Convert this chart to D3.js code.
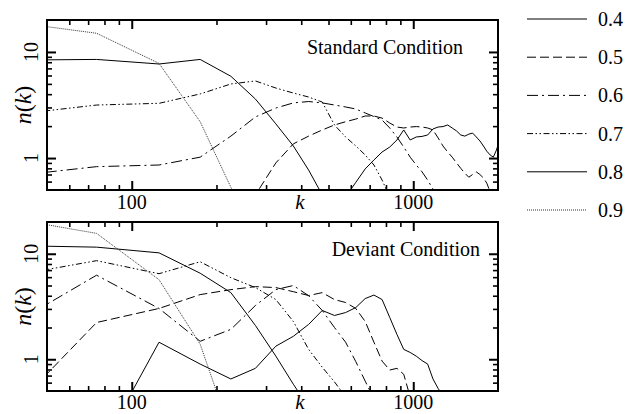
<!DOCTYPE html>
<html>
<head>
<meta charset="utf-8">
<script src="https://cdn.jsdelivr.net/npm/d3@7"></script>
<style>
  body { margin: 0; background: #fff; }
  svg text { font-family: "Liberation Serif", "Times New Roman", serif; fill: #000; }
</style>
</head>
<body>
<svg id="chart" width="637" height="414"></svg>
<script>
// bin centres (k) shared by every curve
const kValues = [25, 75, 125, 175, 225, 275, 325, 375, 425, 475, 525, 575, 625, 675, 725, 775, 825, 875, 925, 975,
  1025, 1075, 1125, 1175, 1225, 1275, 1325, 1375, 1425, 1475, 1525, 1575, 1625, 1675, 1725, 1775, 1825, 1875, 1925, 1975, 2025]

const seriesNames = ['0.4', '0.5', '0.6', '0.7', '0.8', '0.9']
const panelTitles = ['Standard Condition', 'Deviant Condition']

// Standard condition, n(k) per bin (null = not drawn)
const std04 = [null, null, null, null, null, null, null, null, null, null, null, 0.43, 0.59, 0.79, 0.96, 1.14, 1.27, 1.48, 1.84, 1.48,
  1.58, 1.60, 1.65, 1.88, 1.96, 1.98, 2.05, 1.92, 1.80, 1.65, 1.61, 1.68, 1.72, 1.58, 1.45, 1.30, 1.16, 1.07, 1.02, 1.19, 1.48]
const std05 = [null, null, null, null, 0.2, 0.45, 0.90, 1.36, 1.61, 1.84, 2.05, 2.20, 2.33, 2.49, 2.49, 2.38, 2.14, 1.96, 1.92, 1.96,
  1.98, 1.96, 1.92, 1.84, 1.55, 1.30, 1.14, 1.02, 0.90, 0.80, 0.72, 0.66, 0.70, 0.74, 0.70, 0.65, 0.58, 0.48, 0.37, null, null]
const std06 = [0.60, 0.83, 0.86, 1.02, 1.61, 2.44, 2.96, 3.31, 3.41, 3.31, 3.16, 3.03, 2.90, 2.66, 2.46, 2.28, 1.92, 1.58, 1.27, 1.02,
  0.86, 0.74, 0.62, 0.51, 0.44, null, null, null, null, null, null, null, null, null, null, null, null, null, null, null, null]
const std07 = [2.26, 3.16, 3.28, 4.02, 4.99, 5.33, 4.57, 4.10, 3.76, 3.37, 2.05, 1.58, 1.30, 1.07, 0.86, 0.62, 0.43, null, null, null,
  null, null, null, null, null, null, null, null, null, null, null, null, null, null, null, null, null, null, null, null, null]
const std08 = [8.3, 8.5, 7.7, 8.5, 5.9, 3.6, 2.1, 1.3, 0.77, 0.45, 0.3, null, null, null, null, null, null, null, null, null,
  null, null, null, null, null, null, null, null, null, null, null, null, null, null, null, null, null, null, null, null, null]
const std09 = [22.1, 15.0, 7.8, 2.2, 0.53, 0.2, null, null, null, null, null, null, null, null, null, null, null, null, null, null,
  null, null, null, null, null, null, null, null, null, null, null, null, null, null, null, null, null, null, null, null, null]

// Deviant condition
const dev04 = [null, 0.12, 1.45, 0.90, 0.65, 0.82, 1.33, 1.65, 2.14, 2.90, 2.60, 2.77, 3.09, 3.76, 4.06, 3.68, 2.49, 1.72, 1.24, 1.16,
  1.07, 0.97, 0.90, 0.65, 0.53, 0.45, null, null, null, null, null, null, null, null, null, null, null, null, null, null, null]
const dev05 = [0.107, 2.23, 3.03, 4.10, 4.57, 4.88, 4.78, 4.37, 4.02, 4.28, 3.68, 3.45, 3.03, 2.28, 1.45, 0.96, 0.79, 0.82, 0.72, 0.44,
  null, null, null, null, null, null, null, null, null, null, null, null, null, null, null, null, null, null, null, null, null]
const dev06 = [1.13, 6.26, 3.03, 1.48, 1.92, 3.23, 4.57, 5.0, 4.0, 2.9, 2.0, 1.45, 0.95, 0.62, 0.42, null, null, null, null, null,
  null, null, null, null, null, null, null, null, null, null, null, null, null, null, null, null, null, null, null, null, null]
const dev07 = [5.08, 8.6, 6.47, 8.4, 5.93, 4.78, 3.68, 2.28, 1.24, 0.84, 0.61, 0.44, null, null, null, null, null, null, null, null,
  null, null, null, null, null, null, null, null, null, null, null, null, null, null, null, null, null, null, null, null, null]
const dev08 = [12.2, 11.55, 10.2, 6.54, 4.28, 2.09, 1.07, 0.58, 0.35, null, null, null, null, null, null, null, null, null, null, null,
  null, null, null, null, null, null, null, null, null, null, null, null, null, null, null, null, null, null, null, null, null]
const dev09 = [26, 15.6, 5.68, 1.39, 0.2, null, null, null, null, null, null, null, null, null, null, null, null, null, null, null,
  null, null, null, null, null, null, null, null, null, null, null, null, null, null, null, null, null, null, null, null, null]

const standardSeries = [std04, std05, std06, std07, std08, std09]
const deviantSeries = [dev04, dev05, dev06, dev07, dev08, dev09]

const xMajorTicks = [100, 1000]
const xMinorTicks = [60, 70, 80, 90, 200, 300, 400, 500, 600, 700, 800, 900]
const yMajorTicks = [1, 10]
const yMinorTicks = [0.6, 0.7, 0.8, 0.9, 2, 3, 4, 5, 6, 7, 8, 9]

const STYLES = {
  '0.4': { dash: null, color: '#000', width: 1 },
  '0.5': { dash: '9,4', color: '#000', width: 1 },
  '0.6': { dash: '11,4,2,4', color: '#000', width: 1 },
  '0.7': { dash: '6,2.5,1.5,2.5,1.5,2.5', color: '#000', width: 1 },
  '0.8': { dash: null, color: '#000', width: 1 },
  '0.9': { dash: '1,1', color: '#333', width: 1 },
}

const svg = d3.select('#chart')
const x = d3.scaleLog().domain([50, 2000]).range([47, 498])

const panels = [
  { title: panelTitles[0], series: standardSeries, top: 20, bottom: 190, titleX: 463, titleY: 54, labelY: 209 },
  { title: panelTitles[1], series: deviantSeries, top: 222, bottom: 391, titleX: 480, titleY: 256, labelY: 409 },
]

panels.forEach((p, pi) => {
  const y = d3.scaleLog().domain([0.5, 20]).range([p.bottom, p.top])
  const [x0, x1] = x.range()

  svg.append('clipPath').attr('id', 'clip' + pi)
    .append('rect').attr('x', x0).attr('y', p.top).attr('width', x1 - x0).attr('height', p.bottom - p.top)

  // curves
  const line = d3.line().defined(d => d[1] != null).x(d => x(d[0])).y(d => y(d[1]))
  const g = svg.append('g').attr('clip-path', `url(#clip${pi})`)
  p.series.forEach((vals, i) => {
    const st = STYLES[seriesNames[i]]
    g.append('path')
      .datum(kValues.map((k, j) => [k, vals[j]]))
      .attr('d', line)
      .attr('fill', 'none')
      .attr('stroke', st.color)
      .attr('stroke-width', st.width)
      .attr('stroke-dasharray', st.dash)
  })

  // inward ticks on all four sides
  const tickAxes = [
    [d3.axisBottom(x), `translate(0,${p.bottom})`, xMajorTicks, xMinorTicks],
    [d3.axisTop(x), `translate(0,${p.top})`, xMajorTicks, xMinorTicks],
    [d3.axisLeft(y), `translate(${x0},0)`, yMajorTicks, yMinorTicks],
    [d3.axisRight(y), `translate(${x1},0)`, yMajorTicks, yMinorTicks],
  ]
  tickAxes.forEach(([ax, tr, major, minor]) => {
    svg.append('g').attr('transform', tr)
      .call(ax.tickValues(major).tickSize(-9).tickFormat(''))
      .call(s => s.select('.domain').remove())
      .call(s => s.selectAll('line').attr('stroke-width', 2))
    svg.append('g').attr('transform', tr)
      .call(ax.tickValues(minor).tickSize(-5).tickFormat(''))
      .call(s => s.select('.domain').remove())
      .call(s => s.selectAll('line').attr('stroke-width', 1.6))
  })

  // frame
  svg.append('rect').attr('x', x0).attr('y', p.top).attr('width', x1 - x0).attr('height', p.bottom - p.top)
    .attr('fill', 'none').attr('stroke', '#000').attr('stroke-width', 2)

  // tick labels
  xMajorTicks.forEach(t => {
    svg.append('text').attr('x', x(t)).attr('y', p.labelY)
      .attr('text-anchor', 'middle').attr('font-size', 20).text(t)
  })
  yMajorTicks.forEach(t => {
    svg.append('text').attr('transform', `translate(38,${y(t)}) rotate(-90)`)
      .attr('text-anchor', 'middle').attr('font-size', 20).text(t)
  })

  // axis titles
  svg.append('text').attr('x', 300).attr('y', p.labelY)
    .attr('text-anchor', 'middle').attr('font-size', 21).attr('font-style', 'italic').text('k')
  const yl = svg.append('text').attr('transform', `translate(31,${(p.top + p.bottom) / 2}) rotate(-90)`)
    .attr('text-anchor', 'middle').attr('font-size', 24)
  yl.append('tspan').attr('font-style', 'italic').text('n')
  yl.append('tspan').text('(')
  yl.append('tspan').attr('font-style', 'italic').text('k')
  yl.append('tspan').text(')')

  svg.append('text').attr('x', p.titleX).attr('y', p.titleY)
    .attr('text-anchor', 'end').attr('font-size', 20).text(p.title)
})

// legend
const legend = svg.append('g')
seriesNames.forEach((name, i) => {
  const st = STYLES[name]
  const ly = 19 + i * 38.2
  legend.append('line').attr('x1', 527).attr('x2', 587).attr('y1', ly).attr('y2', ly)
    .attr('stroke', st.color).attr('stroke-width', st.width).attr('stroke-dasharray', st.dash)
  legend.append('text').attr('x', 598).attr('y', ly + 7).attr('font-size', 20).text(name)
})
</script>
</body>
</html>
